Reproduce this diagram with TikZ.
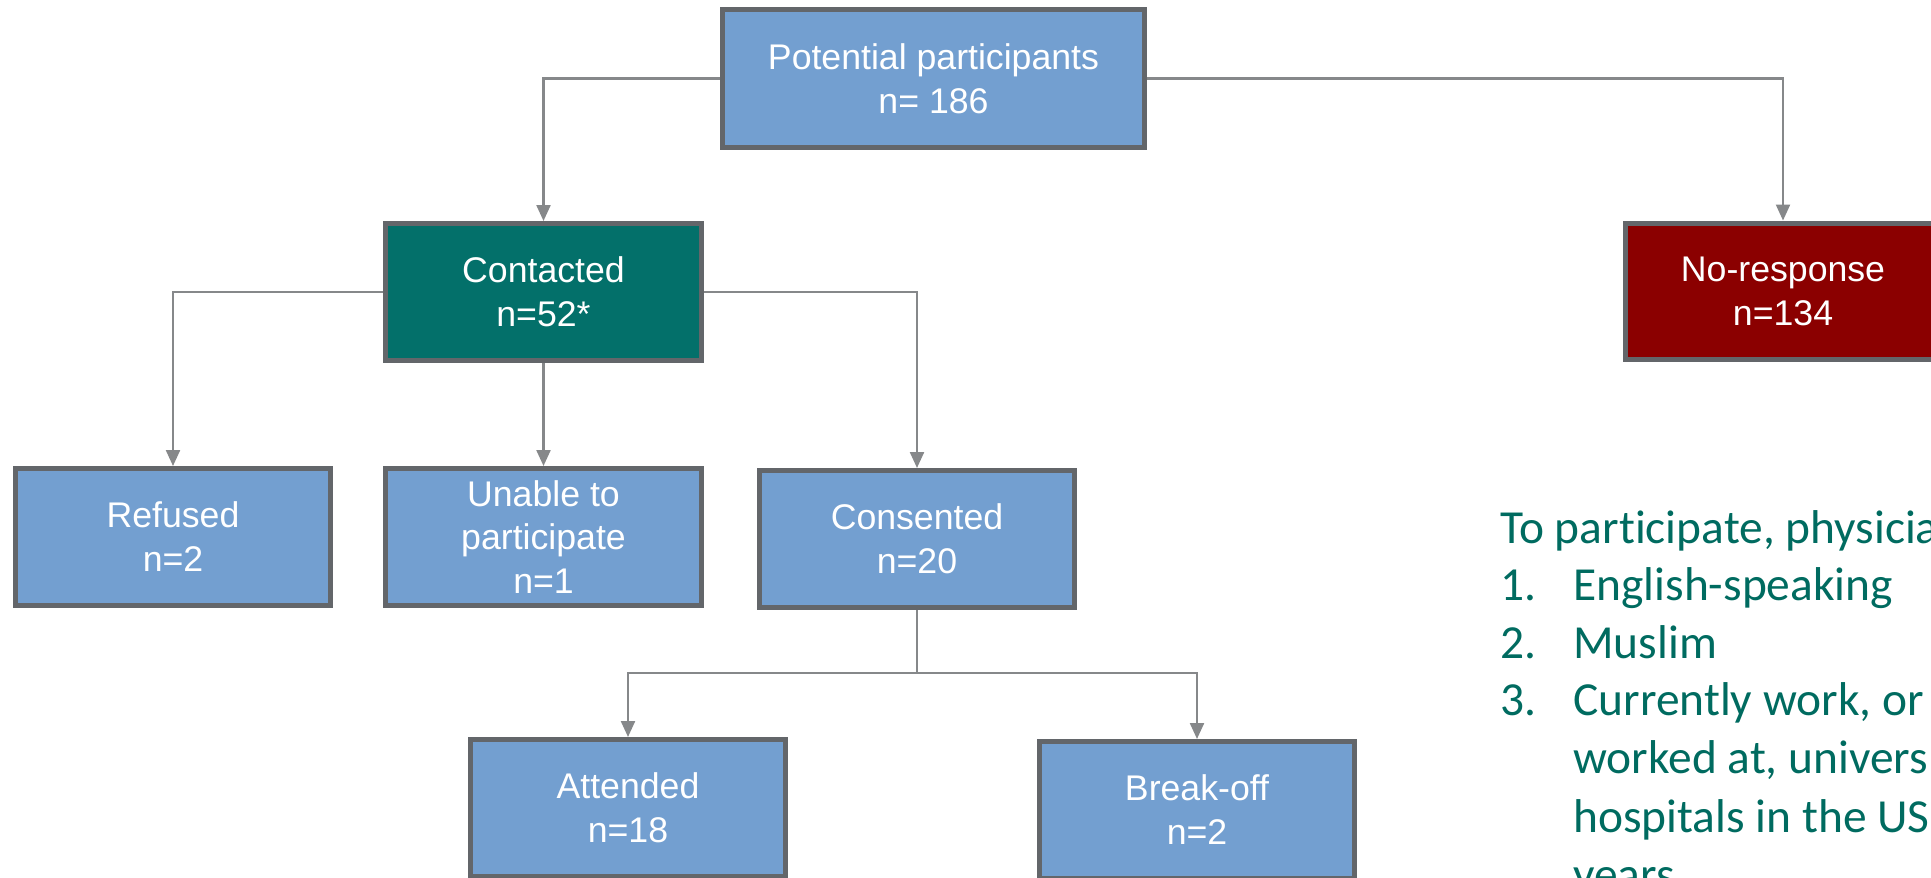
\documentclass[tikz,border=0pt]{standalone}
\usepackage{fontspec}
\setmainfont{Liberation Sans}
\newfontfamily\critfont[Ligatures=CommonOff]{Carlito}
\usetikzlibrary{arrows.meta}

\definecolor{boxblue}{HTML}{739FD0}
\definecolor{boxteal}{HTML}{03706A}
\definecolor{boxred}{HTML}{8B0000}
\definecolor{boxgray}{HTML}{63666A}
\definecolor{linkgray}{HTML}{86888A}
\definecolor{crittext}{HTML}{006B60}

\tikzset{
  box/.style={draw=boxgray, line width=2.85pt, fill=boxblue, text=white,
    minimum width=6.32cm, minimum height=2.74cm, align=center,
    font=\fontsize{20.3}{25}\selectfont},
  link/.style={draw=linkgray, line width=1.3pt},
  arr/.style={link, -{Triangle[length=0.32cm,width=0.28cm]}},
  crit/.style={anchor=base west, inner sep=0pt, text=crittext,
    font=\critfont\fontsize{27}{32.7}\selectfont}
}

\begin{document}
\begin{tikzpicture}[x=0.02cm,y=-0.02cm]
\useasboundingbox (0,0) rectangle (1931,878);
\clip (0,0) rectangle (1931,878);

% boxes
\node[box, minimum width=8.44cm, minimum height=2.76cm] (pp) at (933.5,78.5) {Potential participants\\n= 186};
\node[box, fill=boxteal] (cont) at (543.5,292) {Contacted\\n=52*};
\node[box, fill=boxred] (noresp) at (1783,291.5) {No-response\\n=134};
\node[box] (refused) at (173,537) {Refused\\n=2};
\node[box] (unable) at (543.5,537) {Unable to\\participate\\n=1};
\node[box] (cons) at (917,539) {Consented\\n=20};
\node[box] (att) at (628,808) {Attended\\n=18};
\node[box] (brk) at (1197,810) {Break-off\\n=2};

% connectors
\draw[arr] (pp.west) -| (cont.north);
\draw[arr] (pp.east) -| (noresp.north);
\draw[arr] (cont.west) -| (refused.north);
\draw[arr] (cont.south) -- (unable.north);
\draw[arr] (cont.east) -| (cons.north);
\coordinate (split) at (917,673);
\draw[link] (cons.south) -- (split);
\draw[arr] (split) -| (att.north);
\draw[arr] (split) -| (brk.north);

% criteria
\node[crit] (intro) at (1500,543) {To participate, physicia};
\node[crit] (n1) at (1500,600) {1.};
\node[crit] (c1) at (1573,600) {English-speaking};
\node[crit] (n2) at (1500,658) {2.};
\node[crit] (c2) at (1573,658) {Muslim};
\node[crit] (n3) at (1500,715) {3.};
\node[crit] (c3) at (1573,715) {Currently work, or};
\node[crit] (c4) at (1573,773) {worked at, univers};
\node[crit] (c5) at (1573,832) {hospitals in the US};
\node[crit] (c6) at (1573,890) {years};
\end{tikzpicture}
\end{document}
